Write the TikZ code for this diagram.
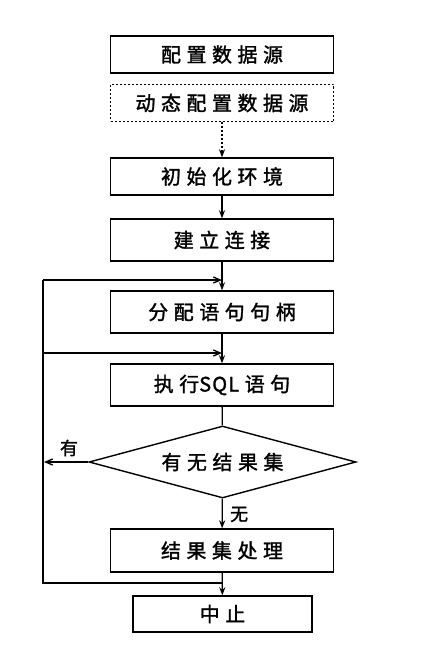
\documentclass[tikz,border=0pt]{standalone}
\usepackage{fontspec}
\setmainfont{Noto Sans CJK SC}
\newfontfamily\cjk[LetterSpace=28,FakeBold=1.5]{Noto Sans CJK SC}
\newfontfamily\cjklabel[FakeBold=1.5]{Noto Sans CJK SC}
\usetikzlibrary{arrows.meta,shapes.geometric}
\begin{document}
\begin{tikzpicture}[x=1bp,y=-1bp,
  box/.style={draw,line width=1.4bp,minimum width=223bp,minimum height=37bp,inner sep=0pt,font=\cjk\fontsize{20}{22}\selectfont},
  lbl/.style={font=\cjklabel\fontsize{18}{20}\selectfont},
  dots/.style={dash pattern=on 2bp off 2bp},
  flow/.style={line width=1.3bp,-{Stealth[length=8bp,width=6bp]}},
  back/.style={line width=1.3bp,-{Straight Barb[length=7bp,width=6bp]}}]
\useasboundingbox (0,0) rectangle (425,660);
\node[box] (b1) at (222,54.5) {配置数据源};
\node[box,dots,line width=1.6bp] (b2) at (222,103) {动态配置数据源};
\node[box] (b3) at (222,176.5) {初始化环境};
\node[box,minimum height=42bp] (b4) at (222,240) {建立连接};
\node[box,minimum height=42bp] (b5) at (222,312) {分配语句句柄};
\node[box,minimum height=42bp] (b6) at (222,385) {执行{\addfontfeature{LetterSpace=6}SQL }语句};
\node[draw,line width=1.4bp,diamond,aspect=3.7,minimum width=267bp,minimum height=72bp,inner sep=0pt,font=\cjk\fontsize{20}{22}\selectfont] (d) at (222.5,462) {有无结果集};
\node[box,minimum height=43bp] (b7) at (222,550.5) {结果集处理};
\node[box,minimum width=179bp,minimum height=36bp] (b8) at (222.5,614) {中止};
\coordinate (L1) at (43,280);
\coordinate (J1) at (222,280);
\coordinate (L2) at (43,353);
\coordinate (J2) at (222,353);
\coordinate (L3) at (43,583);
\coordinate (J3) at (222,583);
\coordinate (L4) at (44,462);
\draw[flow,dots,line width=1.5bp] (b2) -- (b3);
\draw[flow] (b3) -- (b4);
\draw[flow] (b4) -- (b5);
\draw[flow] (b5) -- (b6);
\draw[line width=1.3bp] (b6) -- (d);
\draw[flow] (d) -- node[right,lbl,xshift=4bp,yshift=-1bp]{无} (b7);
\draw[flow] (b7) -- (b8);
\draw[back] (d.west) -- (L4);
\node[lbl] (yes) at (69,448) {有};
\draw[line width=1.3bp] (J3) -- (L3) -- (L1);
\draw[back] (L1) -- (J1);
\draw[back] (L2) -- (J2);
\end{tikzpicture}
\end{document}
